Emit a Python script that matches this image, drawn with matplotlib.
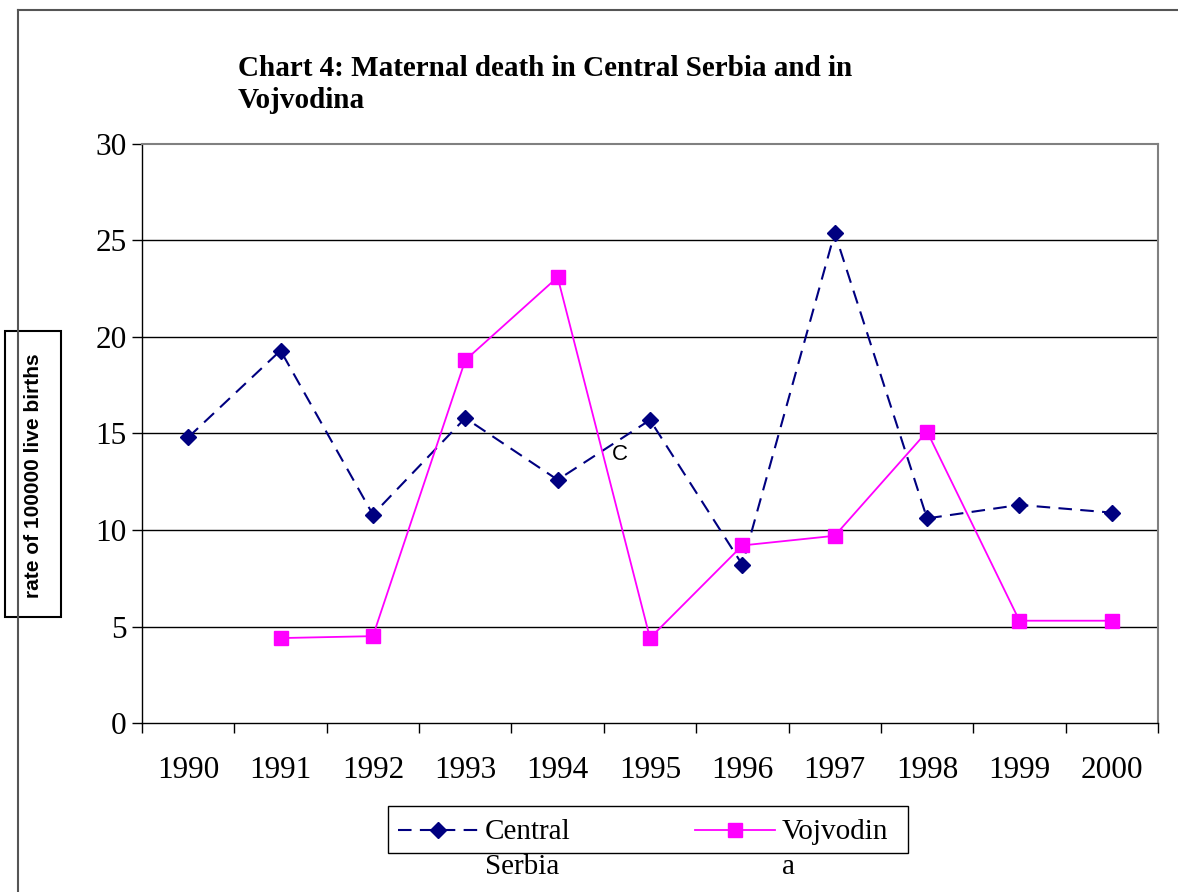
import matplotlib.pyplot as plt
import numpy as np
from matplotlib.lines import Line2D
from matplotlib.patches import Rectangle

years = ['1990', '1991', '1992', '1993', '1994', '1995', '1996', '1997', '1998', '1999', '2000']
central_serbia = [14.8, 19.3, 10.8, 15.8, 12.6, 15.7, 8.2, 25.4, 10.6, 11.3, 10.9]
vojvodina = [np.nan, 4.4, 4.5, 18.8, 23.1, 4.4, 9.2, 9.7, 15.1, 5.3, 5.3]

W, H = 1178, 892
fig = plt.figure(figsize=(W / 100, H / 100), dpi=100)
serif = 'Liberation Serif'
sans = 'Liberation Sans'

ax = fig.add_axes([142 / W, 1 - 723 / H, (1158 - 142) / W, (723 - 144) / H])

x = np.arange(len(years)) + 0.5
navy = '#000080'
pink = '#ff00ff'
ax.plot(x, central_serbia, color=navy, lw=1.5, dashes=(6.5, 4), marker='D', ms=8,
        mfc=navy, mec=navy, zorder=3)
ax.plot(x, vojvodina, color=pink, lw=1.3, marker='s', ms=10, mfc=pink, mec=pink, zorder=3)

ax.set_xlim(0, len(years))
ax.set_ylim(0, 30)
ax.set_yticks(range(0, 31, 5))
ax.set_xticks(np.arange(len(years) + 1))
ax.set_xticklabels([])
ax.set_xticks(x, minor=True)
ax.set_xticklabels(years, minor=True, fontfamily=serif, fontsize=22.5)
ax.tick_params(axis='x', which='minor', length=0, pad=24)
ax.tick_params(axis='x', which='major', length=7, direction='out', width=1)
ax.tick_params(axis='y', length=7, direction='out', width=1, labelsize=22.5, pad=4)
for lab in ax.get_yticklabels():
    lab.set_fontfamily(serif)

for v in range(5, 30, 5):
    ax.axhline(v, color='black', lw=1, zorder=1)
for s in ['top', 'right']:
    ax.spines[s].set_color('#808080')
    ax.spines[s].set_linewidth(1.5)
for s in ['left', 'bottom']:
    ax.spines[s].set_color('black')
    ax.spines[s].set_linewidth(1)

# stray label in chart
ax.text(5.17, 13.9, 'C', fontfamily=sans, fontsize=16, ha='center', va='center')

# title
fig.text(238 / W, 1 - 55 / H, 'Chart 4: Maternal death in Central Serbia and in\nVojvodina',
         fontfamily=serif, fontweight='bold', fontsize=21, ha='left', va='top', linespacing=1.22)

# y label in a box
fig.patches.append(Rectangle((5 / W, 1 - 617 / H), 56 / W, (617 - 331) / H,
                             transform=fig.transFigure, fill=False, ec='black', lw=1.5))
fig.text(34 / W, 1 - 476 / H, 'rate of 100000 live births', rotation=90, fontfamily=sans,
         fontweight='bold', fontsize=15, ha='center', va='center')

# legend drawn by hand
fig.patches.append(Rectangle((388 / W, 1 - 853 / H), (908 - 388) / W, (853 - 806) / H,
                             transform=fig.transFigure, fill=False, ec='black', lw=1))
ly = 1 - 830 / H
fig.lines.append(Line2D([398 / W, 478 / W], [ly, ly], transform=fig.transFigure, color=navy,
                        lw=1.5, dashes=(6.5, 4)))
fig.lines.append(Line2D([438 / W], [ly], transform=fig.transFigure, color=navy, marker='D',
                        ms=8, mfc=navy, mec=navy))
fig.lines.append(Line2D([695 / W, 775 / W], [ly, ly], transform=fig.transFigure, color=pink,
                        lw=1.3))
fig.lines.append(Line2D([735 / W], [ly], transform=fig.transFigure, color=pink, marker='s',
                        ms=10, mfc=pink, mec=pink))
fig.text(485 / W, 1 - 832 / H, 'Central', fontfamily=serif, fontsize=21, ha='left', va='center')
fig.text(485 / W, 1 - 867 / H, 'Serbia', fontfamily=serif, fontsize=21, ha='left', va='center')
fig.text(782 / W, 1 - 832 / H, 'Vojvodin', fontfamily=serif, fontsize=21, ha='left', va='center')
fig.text(782 / W, 1 - 867 / H, 'a', fontfamily=serif, fontsize=21, ha='left', va='center')

# outer frame (extends beyond the picture on right and bottom)
fig.lines.append(Line2D([18 / W, 18 / W], [0, 1 - 10 / H], transform=fig.transFigure,
                        color='#555555', lw=1.5))
fig.lines.append(Line2D([18 / W, 1], [1 - 10 / H, 1 - 10 / H], transform=fig.transFigure,
                        color='#555555', lw=1.5))

fig.savefig('out.png', dpi=100)
